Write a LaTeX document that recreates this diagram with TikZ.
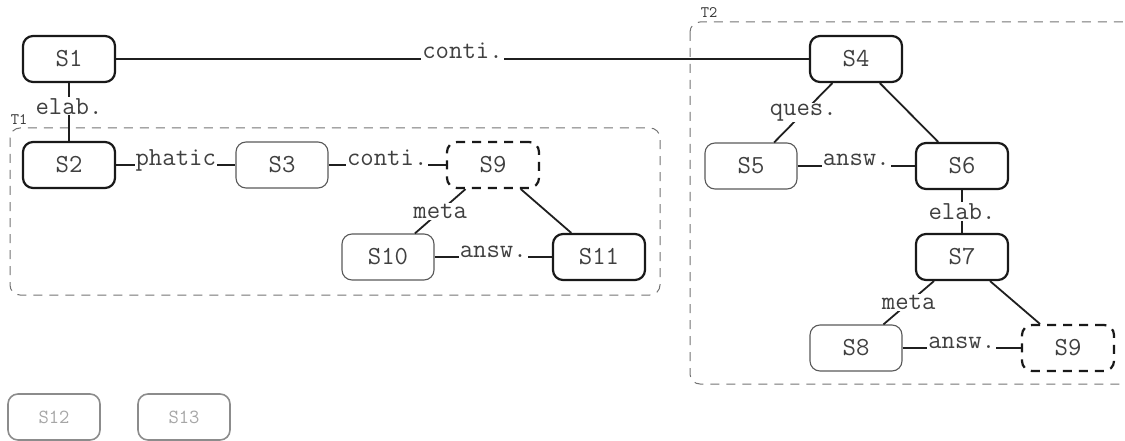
\documentclass[tikz,border=0pt]{standalone}
\begin{document}
\begin{tikzpicture}[x=1pt,y=-1pt,
  font=\ttfamily\fontsize{26}{26}\selectfont,
  sbase/.style={rectangle, rounded corners=10pt, minimum width=92pt, minimum height=46pt, inner sep=0pt, text=black!75},
  boldbox/.style={sbase, draw=black!90, line width=2.2pt},
  thinbox/.style={sbase, draw=black!65, line width=1.1pt},
  dashbox/.style={sbase, draw=black!90, line width=2.2pt, dash pattern=on 9pt off 7pt},
  greybox/.style={sbase, draw=black!45, line width=1.6pt, text=black!35, font=\ttfamily\fontsize{20}{20}\selectfont},
  edge/.style={draw=black!88, line width=1.8pt},
  lab/.style={fill=white, inner sep=1pt, text=black!75},
  hlab/.style={lab, anchor=base},
  group/.style={draw=black!55, line width=1pt, dash pattern=on 9pt off 7pt, rounded corners=10pt},
  glab/.style={font=\ttfamily\fontsize{16}{16}\selectfont, text=black!80, inner sep=0pt}
]
\useasboundingbox (0,0) rectangle (1125,441);
% groups
\draw[group] (10,128) rectangle (660,295);
\node[glab] (t1) at (19,120) {T1};
\draw[group] (690,22) rectangle (1140,384);
\node[glab] (t2) at (709,13) {T2};
% nodes
\node[boldbox] (s1) at (69,59) {S1};
\node[boldbox] (s2) at (69,165) {S2};
\node[thinbox] (s3) at (282,165) {S3};
\node[dashbox] (s9a) at (493,165) {S9};
\node[thinbox] (s10) at (388,257) {S10};
\node[boldbox] (s11) at (599,257) {S11};
\node[boldbox] (s4) at (856,59) {S4};
\node[thinbox] (s5) at (751,166) {S5};
\node[boldbox] (s6) at (962,166) {S6};
\node[boldbox] (s7) at (962,257) {S7};
\node[thinbox] (s8) at (856,348) {S8};
\node[dashbox] (s9b) at (1068,348) {S9};
\node[greybox] (s12) at (54,417) {S12};
\node[greybox] (s13) at (184,417) {S13};
% edges
\draw[edge] (s1) -- node[pos=0.5, hlab] {conti.} (s4);
\draw[edge] (s1) -- node[pos=0.4, lab] {elab.} (s2);
\draw[edge] (s2) -- node[pos=0.5, hlab] {phatic} (s3);
\draw[edge] (s3) -- node[pos=0.5, hlab] {conti.} (s9a);
\draw[edge] (s10) -- node[pos=0.5, lab] {meta} (s9a);
\draw[edge] (s9a) -- (s11);
\draw[edge] (s10) -- node[pos=0.5, hlab] {answ.} (s11);
\draw[edge] (s5) -- node[pos=0.5, lab] {ques.} (s4);
\draw[edge] (s4) -- (s6);
\draw[edge] (s5) -- node[pos=0.5, hlab] {answ.} (s6);
\draw[edge] (s6) -- node[pos=0.5, lab] {elab.} (s7);
\draw[edge] (s8) -- node[pos=0.5, lab] {meta} (s7);
\draw[edge] (s7) -- (s9b);
\draw[edge] (s8) -- node[pos=0.5, hlab] {answ.} (s9b);
\end{tikzpicture}
\end{document}
